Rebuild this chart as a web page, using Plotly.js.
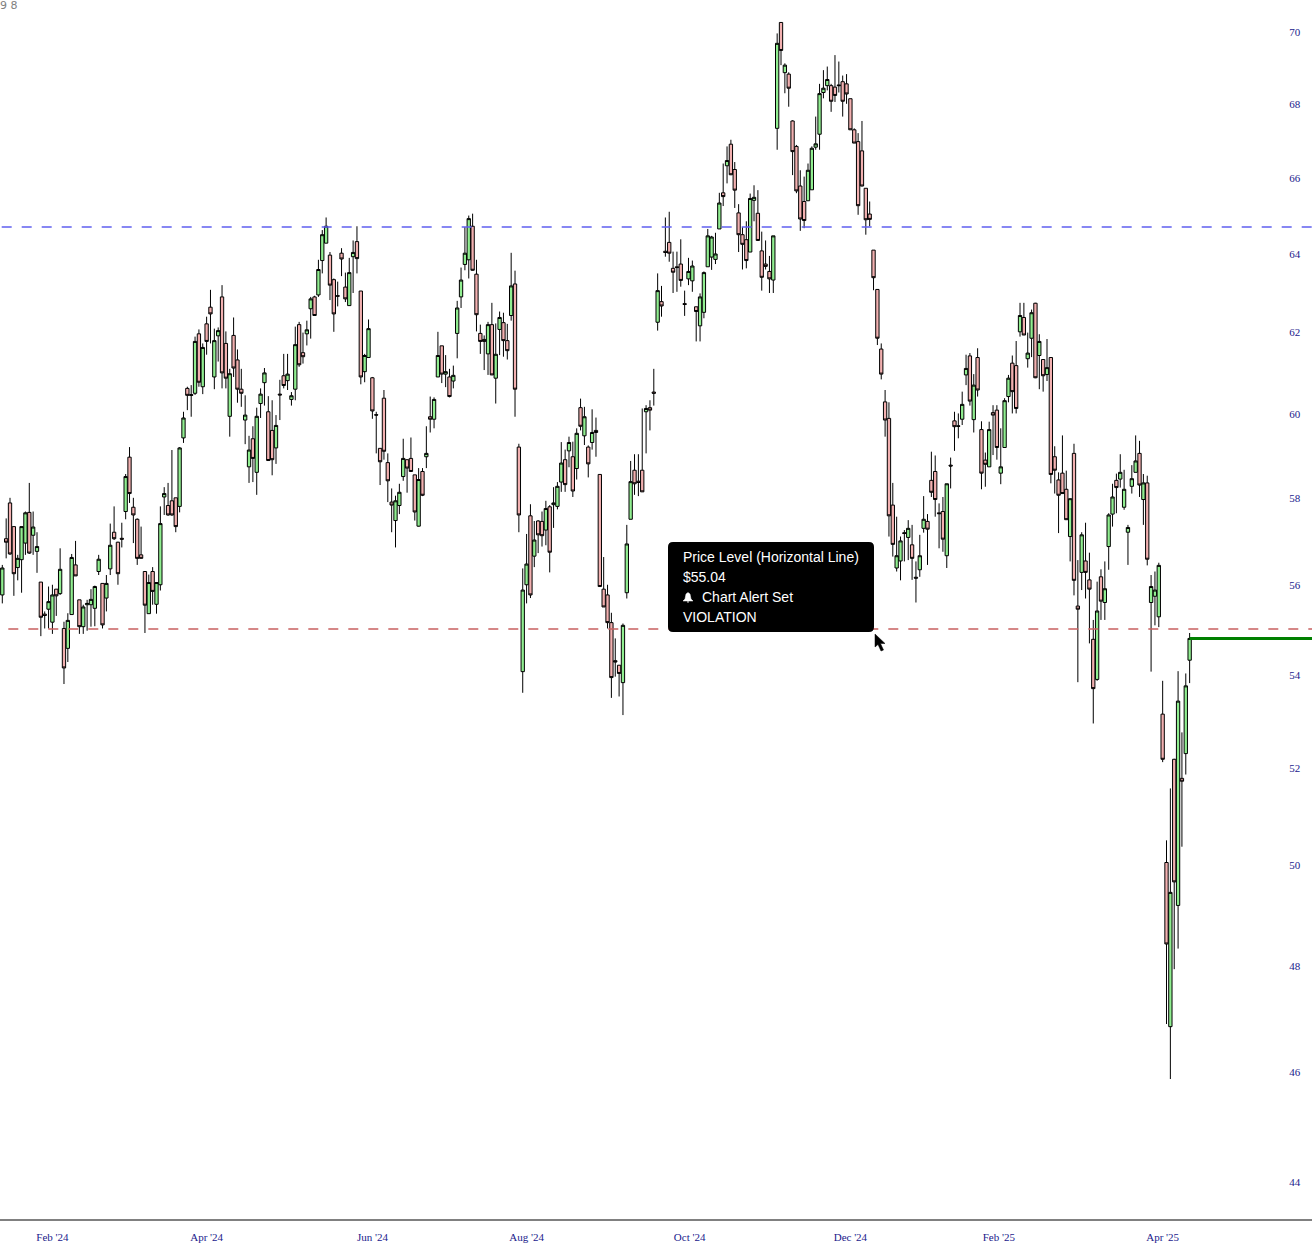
<!DOCTYPE html>
<html>
<head>
<meta charset="utf-8">
<script src="https://cdn.plot.ly/plotly-3.0.1.min.js"></script>
<style>html,body{margin:0;padding:0;background:#fff}#chart{width:1312px;height:1257px}</style>
</head>
<body>
<div id="chart"></div>
<script>
const highs = [
56.45,57.52,58.0,57.33,56.68,57.33,57.68,58.35,57.68,57.2,
56.06,55.4,55.96,56.0,55.9,56.83,55.17,55.36,56.7,57.0,
55.66,55.55,55.66,55.9,55.98,56.68,56.03,56.22,57.4,57.8,
56.98,57.42,58.56,59.2,58.0,57.52,57.33,56.3,56.23,56.4,
56.06,57.8,58.25,58.35,59.13,58.0,59.2,60.05,60.66,60.7,
61.9,62.08,61.73,62.4,63.08,62.1,62.13,63.2,62.03,61.1,
62.38,61.58,61.1,60.45,59.47,59.7,60.15,60.62,61.12,60.43,
60.33,59.97,60.83,61.47,61.47,60.53,62.15,62.27,62.0,62.3,
62.9,62.93,63.85,64.62,64.95,64.05,63.37,63.29,64.15,63.52,
63.9,64.35,64.72,63.05,61.47,62.33,60.9,60.05,59.17,60.58,
59.05,58.22,58.05,58.33,59.4,58.9,59.43,58.54,58.7,58.7,
59.7,60.42,60.4,62.02,61.67,61.44,61.1,61.18,62.8,63.65,
64.7,65.0,65.05,63.85,62.2,61.93,62.27,62.75,62.23,62.53,
62.5,62.22,64.03,63.57,59.28,56.37,57.16,57.85,57.46,57.48,
57.68,57.93,57.83,58.25,58.37,59.32,59.14,59.45,59.33,59.65,
60.37,60.17,59.24,60.11,59.91,58.55,56.63,56.0,55.37,54.8,
54.21,55.13,57.37,58.87,59.03,59.03,60.13,60.21,60.33,61.1,
63.5,63.18,64.95,65.1,64.06,64.06,64.38,63.06,63.9,63.83,
62.65,62.99,63.55,64.65,64.47,64.55,65.6,66.38,66.84,67.02,
66.42,65.3,64.7,64.85,65.58,65.8,65.67,64.58,64.35,63.95,
64.47,69.96,70.27,69.12,68.87,67.55,66.88,66.2,66.03,66.38,
66.84,67.65,68.55,68.93,69.03,68.55,69.35,69.17,68.78,68.82,
68.14,67.33,67.2,67.53,65.72,65.37,64.1,63.09,61.73,60.58,
60.28,58.35,57.56,57.1,57.25,57.48,57.37,56.53,57.14,58.04,
57.62,59.09,59.0,57.87,58.02,58.33,58.95,60.05,60.01,60.54,
61.45,61.49,60.97,61.61,59.82,59.07,59.81,60.21,60.21,59.65,
60.38,60.95,61.43,61.79,62.75,62.75,62.0,62.58,62.75,61.96,
61.33,61.84,61.38,59.22,58.6,59.48,58.64,57.98,59.28,56.56,
57.2,57.42,56.73,55.21,56.07,56.35,56.53,57.64,58.33,58.57,
59.03,58.66,57.37,58.77,59.48,59.35,58.56,58.52,56.22,56.3,
56.5,53.87,50.51,51.58,52.2,54.08,52.76,54.03,54.92];

const lows = [
55.58,56.6,56.68,55.75,56.1,55.82,56.68,56.7,56.68,56.27,
54.85,55.02,55.02,54.9,55.3,55.77,53.8,54.28,55.33,56.2,
54.9,54.9,54.97,55.06,55.07,56.22,55.02,55.4,56.22,57.02,
56.0,56.85,57.5,57.88,56.95,56.45,56.6,54.92,55.35,55.55,
55.35,55.87,57.6,57.58,57.58,57.2,57.66,59.3,60.09,59.93,
60.46,60.66,60.48,61.45,61.73,60.6,61.28,60.62,60.62,59.45,
60.9,60.27,60.17,59.27,58.35,58.37,58.07,59.9,60.2,58.88,
58.53,58.8,59.85,60.62,60.58,60.2,60.33,61.15,61.23,61.68,
61.85,62.42,62.9,63.5,64.28,62.82,62.02,62.66,63.43,62.77,
62.68,63.0,63.5,60.72,60.77,61.38,59.88,59.05,58.3,58.9,
57.9,57.2,56.85,57.62,58.4,58.12,58.62,57.47,57.33,58.04,
58.7,59.55,59.65,60.9,60.75,60.65,60.4,60.62,61.36,62.62,
63.58,63.37,63.57,62.03,61.47,61.07,60.95,60.95,60.25,61.44,
61.4,61.33,62.3,59.93,57.2,53.61,55.58,55.7,56.4,56.72,
56.87,56.9,56.28,57.3,57.73,58.14,58.14,58.72,58.02,58.43,
59.6,59.25,58.48,59.14,58.97,55.96,55.5,55.02,53.5,53.96,
53.53,53.13,55.69,57.5,58.07,58.04,58.14,59.05,59.6,60.2,
62.05,62.4,63.93,63.8,63.0,63.03,63.16,62.42,63.2,63.03,
61.78,61.78,62.36,63.67,63.59,63.74,64.65,65.25,65.85,66.07,
65.2,64.05,63.6,63.63,64.05,64.85,64.35,63.06,63.6,63.0,
63.0,66.75,69.07,68.29,67.92,66.07,65.59,64.6,64.67,65.39,
65.68,66.75,66.75,68.15,68.37,67.78,68.05,68.31,67.65,68.0,
67.29,66.93,65.02,65.77,64.5,64.72,63.07,61.69,60.84,59.45,
57.1,56.64,56.3,56.1,56.53,56.56,56.11,55.6,56.18,57.19,
56.45,58.02,57.56,56.83,56.75,56.38,58.22,59.11,59.41,59.73,
60.7,60.2,59.55,60.42,58.2,58.26,58.73,59.01,58.9,58.32,
59.19,60.28,60.01,60.01,61.9,61.94,61.13,61.39,60.87,60.6,
60.54,60.8,58.34,58.1,57.18,58.1,57.49,56.53,55.76,53.84,
55.88,55.69,54.69,52.95,53.87,55.21,55.21,56.34,57.33,57.64,
58.24,57.72,56.45,58.1,58.6,58.02,57.37,56.44,54.07,55.09,
55.05,52.13,46.9,45.87,47.95,48.35,50.38,51.87,53.82];

const opens = [
55.77,57.05,57.88,57.33,56.39,56.57,56.95,57.66,57.13,56.76,
56.06,55.34,55.45,55.16,55.9,55.8,55.02,54.58,55.33,56.45,
55.66,55.06,55.55,55.55,55.47,56.3,56.03,55.7,56.36,57.2,
56.97,57.06,57.68,58.96,57.78,57.5,56.68,56.3,55.35,56.3,
55.56,56.0,58.02,57.82,57.93,58.0,57.8,59.42,60.62,60.47,
60.5,61.97,60.66,62.22,62.64,60.9,61.92,62.9,61.73,59.94,
61.93,61.32,60.6,59.85,58.73,59.4,58.6,60.25,60.76,60.05,
59.6,59.18,60.48,60.93,60.81,60.35,60.6,62.2,61.5,61.97,
62.6,62.9,62.95,63.83,64.28,63.97,63.34,62.93,64.02,63.15,
62.68,63.93,64.32,63.05,61.03,61.38,60.88,59.98,59.17,60.38,
58.83,57.9,57.47,57.82,58.5,58.9,58.93,58.54,57.34,58.62,
58.97,59.93,59.87,60.9,61.67,60.97,60.9,60.8,61.98,62.9,
63.73,63.85,64.72,63.48,61.98,61.83,61.47,62.2,60.87,62.08,
62.25,61.8,62.43,63.23,59.2,54.07,56.0,57.58,56.65,57.46,
57.45,57.25,57.79,57.84,57.8,58.37,58.9,59.11,58.97,58.69,
60.15,59.47,59.2,59.31,59.6,58.55,55.9,55.77,55.15,54.31,
54.21,53.83,55.82,57.5,58.65,58.39,58.65,60.05,60.15,60.53,
62.26,62.78,64.07,64.3,63.63,63.67,63.74,62.73,63.36,63.31,
62.65,62.17,62.51,63.67,63.92,63.86,64.65,65.6,66.32,66.9,
66.22,65.07,64.5,64.37,64.05,65.4,65.06,64.08,63.74,63.55,
63.33,67.33,70.27,68.86,68.82,67.53,66.84,65.78,65.37,65.39,
65.68,66.82,67.17,68.31,68.5,68.5,68.46,68.52,68.61,68.55,
68.14,67.29,66.97,66.72,65.72,65.04,64.1,63.09,61.59,60.29,
59.89,57.83,56.38,56.54,57.19,57.08,56.91,56.17,56.34,57.29,
57.45,58.41,58.62,57.65,57.68,56.66,58.77,59.83,59.71,59.87,
60.95,61.42,59.86,61.38,59.62,58.89,58.73,60.03,60.09,58.58,
59.19,60.42,61.24,61.18,62.02,62.38,61.35,61.86,62.74,61.43,
61.33,60.96,61.38,58.97,58.42,58.58,58.2,57.1,59.05,55.52,
56.28,56.54,56.11,54.78,53.9,56.18,55.6,56.87,57.62,58.41,
58.44,57.78,57.2,58.27,58.6,59.05,57.96,58.35,55.6,55.74,
55.28,53.15,50.06,46.85,52.19,49.2,51.79,52.31,54.32];

const closes = [
56.38,56.97,56.7,56.25,56.6,57.33,57.65,56.72,57.32,56.87,
55.27,55.31,55.62,55.77,55.75,56.35,54.15,55.2,56.62,56.2,
55.06,55.5,55.58,55.67,55.96,56.58,55.1,56.03,56.9,57.05,
56.25,57.04,58.5,58.1,57.6,56.6,56.6,55.54,56.05,55.85,
56.05,57.4,58.1,57.6,57.6,57.33,59.18,59.9,60.45,60.45,
61.78,60.77,61.63,61.78,62.47,61.8,62.05,61.0,60.87,60.98,
61.12,60.6,60.5,59.97,59.13,58.93,59.94,60.48,61.0,58.88,
58.9,59.72,60.46,60.69,60.97,60.44,61.7,61.2,61.4,62.07,
62.85,62.43,63.6,64.5,64.72,63.2,62.47,62.92,63.87,62.85,
63.52,64.04,63.88,60.9,61.43,62.1,60.07,59.97,58.85,59.1,
58.4,57.83,57.93,58.13,58.93,58.7,58.62,57.67,58.43,58.06,
59.05,59.87,60.35,61.43,60.97,61.03,60.42,60.94,62.62,63.33,
64.02,64.92,63.58,62.45,61.78,61.78,62.2,60.95,61.46,62.38,
61.8,61.55,63.18,60.6,57.6,55.88,56.47,55.77,57.02,57.14,
57.12,57.75,56.74,57.88,58.27,58.82,58.31,59.31,58.16,59.53,
59.7,59.93,58.8,59.55,59.55,55.96,55.5,55.15,53.94,54.28,
54.03,55.09,56.93,58.38,58.33,58.36,58.14,60.13,60.09,60.5,
63.06,62.67,64.04,64.02,63.53,63.65,63.32,62.71,63.55,63.69,
62.53,62.9,63.52,64.47,64.44,64.0,65.33,65.5,66.46,66.08,
65.67,64.5,64.25,63.83,65.45,65.48,64.35,63.4,63.68,63.36,
64.47,69.68,69.48,69.07,68.43,66.7,65.65,64.91,64.87,66.2,
66.79,66.91,68.28,68.43,68.67,68.07,68.23,68.5,68.07,68.27,
67.29,66.93,65.26,65.78,64.89,64.9,63.39,61.86,60.97,59.85,
57.58,56.92,56.66,57.0,57.17,57.29,56.6,56.15,56.66,57.5,
57.27,58.13,57.96,57.63,57.04,58.33,58.75,59.69,59.7,60.23,
61.11,60.31,60.7,60.58,58.58,58.79,59.62,59.97,59.19,58.73,
60.32,60.87,60.54,60.13,62.43,61.94,61.49,62.5,60.88,61.78,
60.93,61.13,58.55,58.65,58.06,58.1,57.49,57.98,56.1,55.45,
57.14,56.28,55.9,53.7,55.41,55.63,55.91,57.6,58.02,58.24,
58.6,58.2,57.31,58.45,58.87,58.3,58.35,56.58,55.96,55.88,
56.44,52.19,48.44,49.46,49.67,53.43,51.73,53.76,54.8];

const sessions = opens.map((_, i) => i);
const yTickValues = [44,46,48,50,52,54,56,58,60,62,64,66,68,70];
const xTickIndex = [13,53,96,136,178.3,220,258.5,301];
const xTickLabels = ["Feb '24","Apr '24","Jun '24","Aug '24","Oct '24","Dec '24","Feb '25","Apr '25"];
const resistancePrice = 64.7;
const alertPrice = 55.01;
const lastPrice = closes[closes.length - 1];
const tooltipLines = ["Price Level (Horizontal Line)", "$55.04", "Chart Alert Set", "VIOLATION"];

const W = 1312, H = 1257, plotH = 1219;
const px = x => x / W;
const py = y => (plotH - y) / plotH;
const pathOf = pts => pts.map((p, i) => (i ? 'L' : 'M') + px(p[0]) + ',' + py(p[1])).join(' ') + ' Z';
const roundRect = (l, t, r, b, c) =>
  `M${px(l + c)},${py(t)} L${px(r - c)},${py(t)} Q${px(r)},${py(t)} ${px(r)},${py(t + c)} ` +
  `L${px(r)},${py(b - c)} Q${px(r)},${py(b)} ${px(r - c)},${py(b)} L${px(l + c)},${py(b)} ` +
  `Q${px(l)},${py(b)} ${px(l)},${py(b - c)} L${px(l)},${py(t + c)} Q${px(l)},${py(t)} ${px(l + c)},${py(t)} Z`;

const trace = {
  type: 'candlestick',
  x: sessions, open: opens, high: highs, low: lows, close: closes,
  increasing: {line: {color: '#000', width: 1}, fillcolor: '#90EE90'},
  decreasing: {line: {color: '#000', width: 1}, fillcolor: '#F2B0B0'},
  whiskerwidth: 0,
  hoverinfo: 'skip'
};

const layout = {
  width: W, height: H,
  margin: {l: 0, r: 0, t: 0, b: H - plotH, pad: 0},
  paper_bgcolor: '#fff', plot_bgcolor: '#fff',
  showlegend: false, hovermode: false, dragmode: false,
  boxgap: 0.14, boxgroupgap: 0,
  xaxis: {
    range: [-0.597, 339.74], fixedrange: true, rangeslider: {visible: false},
    showgrid: false, zeroline: false,
    showline: true, linecolor: '#808080', linewidth: 2,
    tickmode: 'array', tickvals: xTickIndex, ticktext: xTickLabels,
    ticks: 'outside', ticklen: 7, tickcolor: 'rgba(0,0,0,0)',
    tickfont: {family: 'Liberation Serif', size: 11, color: '#1a1a8c'}
  },
  yaxis: {
    type: 'log', side: 'right', ticklabelposition: 'inside',
    range: [Math.log10(43.35), Math.log10(70.91)], fixedrange: true,
    showgrid: false, zeroline: false, showline: false,
    tickmode: 'array', tickvals: yTickValues, ticktext: yTickValues.map(String),
    ticks: 'inside', ticklen: 11, tickcolor: 'rgba(0,0,0,0)',
    tickfont: {family: 'Liberation Serif', size: 11, color: '#1a1a8c'}
  },
  shapes: [
    {type: 'line', xref: 'paper', yref: 'y', x0: px(1.7), x1: 1, y0: resistancePrice, y1: resistancePrice,
     line: {color: '#6060F0', width: 1.5, dash: '10px,10px'}},
    {type: 'line', xref: 'paper', yref: 'y', x0: px(8.3), x1: 1, y0: alertPrice, y1: alertPrice,
     line: {color: '#C86060', width: 1.5, dash: '10px,10px'}},
    {type: 'line', xref: 'x', yref: 'y', x0: sessions[sessions.length - 1], x1: 339.74, y0: lastPrice, y1: lastPrice,
     line: {color: '#008000', width: 3}},
    {type: 'path', xref: 'paper', yref: 'paper', path: roundRect(668, 542, 874, 632, 5),
     fillcolor: '#000', line: {width: 0}},
    {type: 'path', xref: 'paper', yref: 'paper',
     path: pathOf([[688, 592.5], [690, 594], [691, 599], [693, 601], [683, 601], [685, 599], [686, 594]]),
     fillcolor: '#fff', line: {color: '#fff', width: 0.5}},
    {type: 'path', xref: 'paper', yref: 'paper',
     path: pathOf([[686.8, 601.5], [689.2, 601.5], [688, 603]]),
     fillcolor: '#fff', line: {width: 0}},
    {type: 'path', xref: 'paper', yref: 'paper',
     path: pathOf([[875, 634], [875, 647], [878, 644.5], [881, 651], [883.5, 650], [880.5, 643.5], [885, 643.5]]),
     fillcolor: '#000', line: {color: '#000', width: 0.5}}
  ],
  annotations: [
    {xref: 'paper', yref: 'paper', x: px(-2), y: py(5), xanchor: 'left', yanchor: 'middle', showarrow: false,
     text: '9 8', font: {family: 'DejaVu Sans', size: 11, color: '#808080'}},
    ...[[681, 557, 0], [681, 577, 1], [700, 597, 2], [681, 617, 3]].map(([x, y, k]) => ({
      xref: 'paper', yref: 'paper', x: px(x), y: py(y), xanchor: 'left', yanchor: 'middle', showarrow: false,
      text: tooltipLines[k], font: {family: 'Liberation Sans', size: 14, color: '#fff'}
    }))
  ]
};

Plotly.newPlot('chart', [trace], layout, {displayModeBar: false, staticPlot: true});
</script>
</body>
</html>
